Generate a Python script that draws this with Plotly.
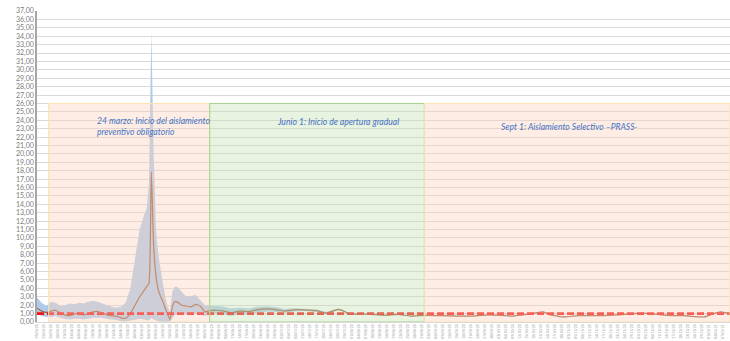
import plotly.graph_objects as go

# Estimated effective reproduction number (Rt) with its uncertainty band
dates = [
    "2020-03-19", "2020-03-21", "2020-03-23", "2020-03-25", "2020-03-27", "2020-03-29",
    "2020-03-31", "2020-04-02", "2020-04-04", "2020-04-06", "2020-04-08", "2020-04-10",
    "2020-04-12", "2020-04-14", "2020-04-16", "2020-04-18", "2020-04-20", "2020-04-22",
    "2020-04-24", "2020-04-26", "2020-04-28", "2020-04-30", "2020-05-02", "2020-05-04",
    "2020-05-05", "2020-05-06", "2020-05-07", "2020-05-08", "2020-05-09", "2020-05-10",
    "2020-05-11", "2020-05-12", "2020-05-13", "2020-05-14", "2020-05-15", "2020-05-16",
    "2020-05-17", "2020-05-18", "2020-05-20", "2020-05-22", "2020-05-24", "2020-05-26",
    "2020-05-28", "2020-05-30",
    "2020-06-01", "2020-06-04", "2020-06-07", "2020-06-10", "2020-06-14", "2020-06-18",
    "2020-06-21", "2020-06-26", "2020-06-30", "2020-07-03", "2020-07-07", "2020-07-11",
    "2020-07-14", "2020-07-17", "2020-07-21", "2020-07-26", "2020-07-28", "2020-07-31",
    "2020-08-06", "2020-08-10", "2020-08-15", "2020-08-21", "2020-08-26", "2020-09-01",
    "2020-09-09", "2020-09-15", "2020-09-21", "2020-09-29", "2020-10-09", "2020-10-17",
    "2020-10-22", "2020-10-25", "2020-10-31", "2020-11-06", "2020-11-16", "2020-11-23",
    "2020-12-03", "2020-12-07", "2020-12-14", "2020-12-21", "2020-12-30", "2021-01-03",
    "2021-01-06", "2021-01-10",
]

rt_mean = [
    1.65, 1.30, 1.15, 1.30, 1.40, 1.05,
    0.85, 0.75, 0.95, 1.05, 0.85, 1.00,
    1.20, 1.25, 1.10, 0.85, 0.75, 0.70,
    0.50, 0.45, 1.00, 2.00, 3.00, 3.80,
    4.20, 4.60, 17.90, 9.00, 5.50, 3.80,
    3.00, 2.40, 1.60, 0.90, 0.30, 1.80,
    2.40, 2.40, 2.00, 1.90, 1.80, 2.10,
    1.90, 1.20,
    1.35, 1.40, 1.30, 1.10, 1.30, 1.25,
    1.45, 1.55, 1.45, 1.30, 1.45, 1.45,
    1.40, 1.35, 1.05, 1.50, 1.35, 0.95,
    0.95, 0.90, 0.80, 0.90, 0.70, 0.80,
    0.75, 0.70, 0.70, 0.85, 0.70, 1.00,
    1.20, 0.85, 0.60, 0.75, 0.75, 0.85,
    1.05, 1.00, 0.80, 0.75, 0.60, 1.00,
    1.20, 1.00,
]

rt_low = [
    1.00, 0.70, 0.60, 0.60, 0.70, 0.50,
    0.35, 0.30, 0.40, 0.40, 0.30, 0.40,
    0.50, 0.50, 0.50, 0.35, 0.30, 0.25,
    0.10, 0.05, 0.20, 0.30, 0.40, 0.30,
    0.20, 0.20, 0.50, 0.30, 0.20, 0.10,
    0.00, 0.00, 0.00, 0.00, 0.00, 0.40,
    0.80, 0.90, 0.90, 0.90, 0.90, 1.00,
    0.90, 0.70,
    0.90, 0.95, 0.85, 0.75, 0.90, 0.90,
    1.10, 1.25, 1.20, 1.10, 1.25, 1.30,
    1.25, 1.20, 0.90, 1.40, 1.25, 0.85,
    0.87, 0.83, 0.74, 0.84, 0.65, 0.75,
    0.70, 0.65, 0.65, 0.80, 0.65, 0.95,
    1.15, 0.80, 0.55, 0.70, 0.70, 0.80,
    1.00, 0.95, 0.75, 0.70, 0.55, 0.95,
    1.15, 0.95,
]

rt_high = [
    2.90, 2.30, 1.90, 2.40, 2.30, 1.90,
    2.00, 2.20, 2.10, 2.30, 2.20, 2.40,
    2.50, 2.40, 2.20, 2.00, 1.80, 1.70,
    1.80, 2.30, 4.00, 7.50, 11.00, 12.80,
    13.50, 16.50, 34.50, 20.00, 11.00, 8.00,
    6.00, 4.50, 3.00, 1.80, 1.20, 3.60,
    4.20, 4.20, 3.60, 3.00, 3.10, 3.20,
    2.60, 2.00,
    1.90, 1.90, 1.80, 1.60, 1.70, 1.60,
    1.80, 1.85, 1.75, 1.55, 1.65, 1.60,
    1.55, 1.50, 1.20, 1.60, 1.45, 1.05,
    1.03, 0.97, 0.86, 0.96, 0.75, 0.85,
    0.80, 0.75, 0.75, 0.90, 0.75, 1.05,
    1.25, 0.90, 0.65, 0.80, 0.80, 0.90,
    1.10, 1.05, 0.85, 0.80, 0.65, 1.05,
    1.25, 1.05,
]

threshold = 1.0

# Policy phases: start dates and labels
phase_starts = ["2020-03-24", "2020-06-01", "2020-09-01"]
phase_ends = ["2020-06-01", "2020-09-01", "2021-01-10"]
phase_labels = [
    "24 marzo: Inicio del aislamiento<br>preventivo obligatorio",
    "Junio 1: Inicio de apertura gradual",
    "Sept 1: Aislamiento Selectivo \u2013PRASS-",
]
phase_top = 26

x_start, x_end = "2020-03-19", "2021-01-10"

fig = go.Figure()

# Uncertainty band
fig.add_trace(go.Scatter(
    x=dates + dates[::-1],
    y=rt_high + rt_low[::-1],
    fill="toself",
    fillcolor="rgb(175,203,235)",
    line=dict(width=0),
    mode="lines",
    hoverinfo="skip",
    showlegend=False,
))

# Central estimate
fig.add_trace(go.Scatter(
    x=dates, y=rt_mean, mode="lines",
    line=dict(color="rgb(160,90,50)", width=1.2, shape="spline", smoothing=0.4),
    showlegend=False,
))

# Rt = 1 reference
fig.add_trace(go.Scatter(
    x=[x_start, x_end], y=[threshold, threshold], mode="lines",
    line=dict(color="rgb(245,20,20)", width=2.6, dash="7px,3px"),
    showlegend=False,
))

# Phase shading drawn as translucent overlays
phase_fill = ["rgba(250,210,187,0.4)", "rgba(197,224,180,0.4)", "rgba(250,210,187,0.4)"]
phase_line = ["rgb(252,228,175)", "rgb(169,209,142)", "rgb(252,228,175)"]
for s, e, fc, lc in zip(phase_starts, phase_ends, phase_fill, phase_line):
    fig.add_shape(type="rect", xref="x", yref="y", x0=s, x1=e, y0=0, y1=phase_top,
                  fillcolor=fc, line=dict(color=lc, width=1), layer="above")

label_font = dict(family="Lato", size=8.6, color="rgb(68,114,196)", style="italic")
fig.add_annotation(x="2020-04-13", y=23.2, xref="x", yref="y", text=phase_labels[0],
                   showarrow=False, xanchor="left", yanchor="middle", align="left",
                   font=label_font)
fig.add_annotation(x="2020-07-26", y=23.8, xref="x", yref="y", text=phase_labels[1],
                   showarrow=False, xanchor="center", yanchor="middle", font=label_font)
fig.add_annotation(x="2020-11-02", y=23.2, xref="x", yref="y", text=phase_labels[2],
                   showarrow=False, xanchor="center", yanchor="middle", font=label_font)

fig.update_layout(
    width=730, height=341,
    margin=dict(l=37, r=0, t=11, b=19),
    paper_bgcolor="white", plot_bgcolor="white",
    separators=",.",
    showlegend=False,
    font=dict(family="Lato"),
)

fig.update_yaxes(
    range=[0, 37], dtick=1, tick0=0, tickformat=".2f",
    showgrid=True, gridcolor="rgb(217,217,217)", gridwidth=1,
    zeroline=False, showline=True, linecolor="rgb(166,166,166)", linewidth=1.5,
    tickfont=dict(family="Lato", size=7, color="rgb(125,125,125)"),
    ticks="", automargin=False,
)

fig.update_xaxes(
    type="date", range=[x_start, x_end],
    tick0=x_start, dtick=3 * 86400000, tickformat="%d/%m/%y", tickangle=-90,
    tickfont=dict(family="Lato", size=3.3, color="rgb(150,150,150)"),
    showgrid=False, zeroline=False, showline=True,
    linecolor="rgb(217,217,217)", linewidth=1,
    ticks="", automargin=False,
)

fig.write_html("out.html")
